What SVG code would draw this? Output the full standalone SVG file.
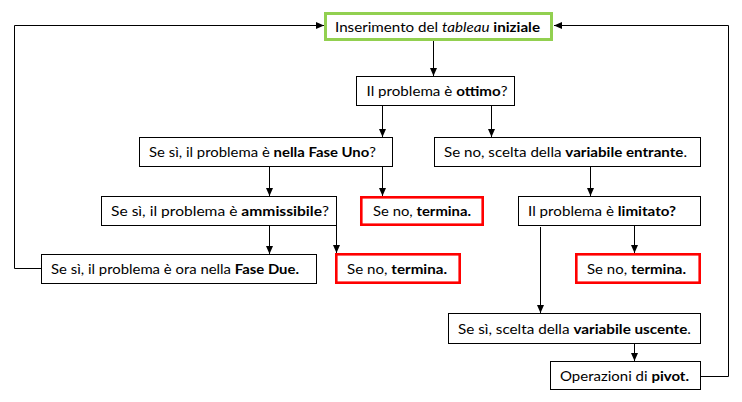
<svg xmlns="http://www.w3.org/2000/svg" width="742" height="402" viewBox="0 0 742 402">
<defs>
<marker id="ah" markerUnits="userSpaceOnUse" markerWidth="9" markerHeight="8" refX="8" refY="3.5" orient="auto">
<path d="M0,0 L8,3.5 L0,7 z" fill="#000"/>
</marker>
<style>
.box{fill:#fff;stroke:#000;stroke-width:1}
.red{fill:#fff;stroke:#ff0000;stroke-width:2.6}
.green{fill:#fff;stroke:#92d050;stroke-width:3}
.t{font-family:Lato,"Open Sans","Liberation Sans",sans-serif;font-size:13.4px;fill:#000}
.b{font-weight:bold}
.i{font-style:italic}
.c{fill:none;stroke:#000;stroke-width:1}
.a{marker-end:url(#ah)}
</style>
</defs>
<rect width="742" height="402" fill="#fff"/>
<g id="connectors">
<line class="c a" x1="433.5" y1="41" x2="433.5" y2="76"/>
<line class="c a" x1="382.5" y1="105" x2="382.5" y2="137"/>
<line class="c a" x1="491.5" y1="105" x2="491.5" y2="137"/>
<line class="c a" x1="269.5" y1="166" x2="269.5" y2="196"/>
<line class="c a" x1="382.5" y1="166" x2="382.5" y2="196"/>
<line class="c a" x1="590.5" y1="167" x2="590.5" y2="196"/>
<line class="c a" x1="269.5" y1="225" x2="269.5" y2="254"/>
<line class="c a" x1="336.5" y1="225" x2="336.5" y2="253"/>
<line class="c a" x1="634.5" y1="225" x2="634.5" y2="253"/>
<line class="c a" x1="540.5" y1="227" x2="540.5" y2="313"/>
<line class="c a" x1="634.5" y1="343" x2="634.5" y2="361"/>
<polyline class="c a" points="41,268.5 14.5,268.5 14.5,25.5 324,25.5"/>
<polyline class="c a" points="700,376.5 728.5,376.5 728.5,25.5 554,25.5"/>
</g>
<g id="n-start">
<rect class="green" x="325.5" y="13.5" width="226" height="26"/>
<text class="t" x="335" y="32" textLength="205" lengthAdjust="spacingAndGlyphs">Inserimento del <tspan class="i">tableau</tspan> <tspan class="b">iniziale</tspan></text>
</g>
<g id="n-ottimo">
<rect class="box" x="356.5" y="76.5" width="158" height="29"/>
<text class="t" x="366.5" y="96" textLength="141" lengthAdjust="spacingAndGlyphs">Il problema è <tspan class="b">ottimo</tspan>?</text>
</g>
<g id="n-faseuno">
<rect class="box" x="139.5" y="137.5" width="253" height="29"/>
<text class="t" x="149" y="157" textLength="227" lengthAdjust="spacingAndGlyphs">Se sì, il problema è <tspan class="b">nella Fase Uno</tspan>?</text>
</g>
<g id="n-entrante">
<rect class="box" x="434.5" y="137.5" width="266" height="29"/>
<text class="t" x="444" y="157" textLength="243" lengthAdjust="spacingAndGlyphs">Se no, scelta della <tspan class="b">variabile entrante</tspan>.</text>
</g>
<g id="n-ammissibile">
<rect class="box" x="101.5" y="196.5" width="235" height="29"/>
<text class="t" x="111" y="216" textLength="218" lengthAdjust="spacingAndGlyphs">Se sì, il problema è <tspan class="b">ammissibile</tspan>?</text>
</g>
<g id="n-termina1">
<rect class="red" x="361.3" y="197.3" width="121.4" height="27.4"/>
<text class="t" x="373" y="216" textLength="98" lengthAdjust="spacingAndGlyphs">Se no, <tspan class="b">termina.</tspan></text>
</g>
<g id="n-limitato">
<rect class="box" x="518.5" y="196.5" width="182" height="29"/>
<text class="t" x="528" y="216" textLength="148" lengthAdjust="spacingAndGlyphs">Il problema è <tspan class="b">limitato?</tspan></text>
</g>
<g id="n-fasedue">
<rect class="box" x="41.5" y="254.5" width="275" height="29"/>
<text class="t" x="51" y="274" textLength="248" lengthAdjust="spacingAndGlyphs">Se sì, il problema è ora nella <tspan class="b">Fase Due.</tspan></text>
</g>
<g id="n-termina2">
<rect class="red" x="336.3" y="254.3" width="123.4" height="28.4"/>
<text class="t" x="347" y="274" textLength="100" lengthAdjust="spacingAndGlyphs">Se no, <tspan class="b">termina.</tspan></text>
</g>
<g id="n-termina3">
<rect class="red" x="576.3" y="254.3" width="123.4" height="28.4"/>
<text class="t" x="587" y="274" textLength="99" lengthAdjust="spacingAndGlyphs">Se no, <tspan class="b">termina.</tspan></text>
</g>
<g id="n-uscente">
<rect class="box" x="448.5" y="313.5" width="252" height="30"/>
<text class="t" x="458" y="333.5" textLength="233" lengthAdjust="spacingAndGlyphs">Se sì, scelta della <tspan class="b">variabile uscente</tspan>.</text>
</g>
<g id="n-pivot">
<rect class="box" x="550.5" y="361.5" width="150" height="28"/>
<text class="t" x="560" y="380.5" textLength="129" lengthAdjust="spacingAndGlyphs">Operazioni di <tspan class="b">pivot.</tspan></text>
</g>
</svg>
